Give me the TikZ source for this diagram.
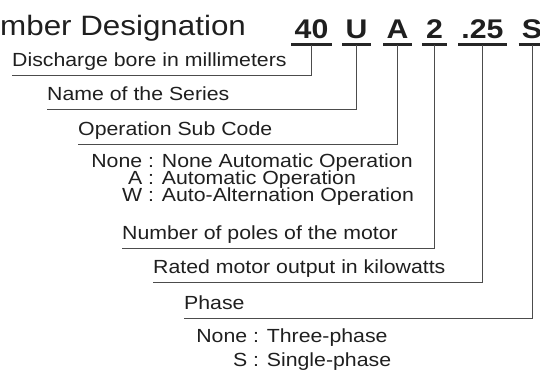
\documentclass[tikz,border=0pt]{standalone}
\usepackage{fontspec}
\setmainfont[FakeStretch=1.12]{Liberation Sans}
\usetikzlibrary{positioning}

\begin{document}
\begin{tikzpicture}[x=1pt,y=-1pt,
title/.style={anchor=base west,inner sep=0pt,font=\fontsize{28}{28}\selectfont,text=black!88},
code/.style={anchor=base,inner xsep=3pt,inner ysep=0pt,text depth=6.5pt,minimum width=25pt,font=\fontsize{27}{27}\selectfont\bfseries,text=black!88},
lbl/.style={anchor=south west,inner xsep=0pt,inner ysep=0pt,text depth=8pt,font=\fontsize{19}{19}\selectfont,text=black!88},
opt/.style={anchor=base west,inner sep=0pt,font=\fontsize{19}{19}\selectfont,text=black!88},
uline/.style={line width=2.5pt,black!85},
conn/.style={line width=0.9pt,black!70}]
\useasboundingbox (0,0) rectangle (540,372);
\node[title](title) at (0,35){mber Designation};
% model code
\node[code](c40) at (311.5,38){40};
\node[code](cU) at (356.5,38){U};
\node[code](cA) at (397.5,38){A};
\node[code](c2) at (434.5,38){2};
\node[code](c25) at (482.5,38){.25};
\node[code](cS) at (532,38){S};
\foreach \c in {c40,cU,cA,c2,c25,cS}
  \draw[uline](\c.south west)--(\c.south east);
% meanings
\node[lbl](bore) at (12,75){Discharge bore in millimeters};
\node[lbl](series) at (47,109){Name of the Series};
\node[lbl](subcode) at (78,144){Operation Sub Code};
\node[opt](subnone) at (92,167){\makebox[50pt][r]{None} : None Automatic Operation};
\node[opt](subauto) at (92,184){\makebox[50pt][r]{A} : Automatic Operation};
\node[opt](subalt) at (92,201){\makebox[50pt][r]{W} : Auto-Alternation Operation};
\node[lbl](poles) at (122,248){Number of poles of the motor};
\node[lbl](output) at (153,282){Rated motor output in kilowatts};
\node[lbl](phase) at (184,318){Phase};
\node[opt](phnone) at (197,342){\makebox[50pt][r]{None} : Three-phase};
\node[opt](phsingle) at (197,366){\makebox[50pt][r]{S} : Single-phase};
% connectors
\draw[conn](c40.south)|-(bore.south west);
\draw[conn](cU.south)|-(series.south west);
\draw[conn](cA.south)|-(subcode.south west);
\draw[conn](c2.south)|-(poles.south west);
\draw[conn](c25.south)|-(output.south west);
\draw[conn](cS.south)|-(phase.south west);
\end{tikzpicture}
\end{document}
